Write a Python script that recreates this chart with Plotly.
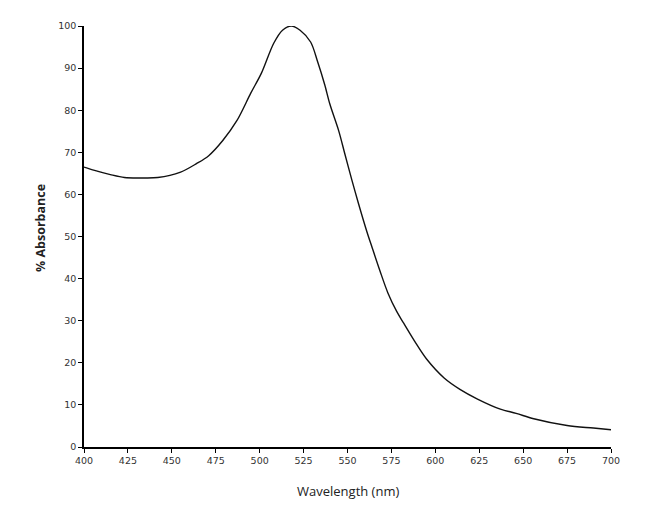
import plotly.graph_objects as go

wavelength_nm = [400, 406, 415, 423, 433, 442, 455, 464, 471, 479, 487, 495, 501,
                 508, 513, 518, 523, 529, 533, 537, 540, 545, 548.5, 552.5, 556, 561,
                 564, 568.5, 573, 578, 582, 589, 595, 605, 614, 624, 637, 646, 656,
                 675, 690, 700]
absorbance_pct = [66.5, 65.7, 64.7, 64.0, 63.9, 64.0, 65.3, 67.3, 69.2, 72.8, 77.5, 84.1, 88.8,
                  95.9, 99.0, 100.0, 99.0, 96.2, 91.5, 86.1, 81.4, 75.1, 69.6, 63.4, 58.2, 51.2,
                  47.4, 41.8, 36.6, 32.2, 29.4, 24.6, 20.9, 16.4, 13.7, 11.4, 9.0, 8.0, 6.7,
                  5.1, 4.5, 4.1]

x_ticks = list(range(400, 701, 25))
y_ticks = list(range(0, 101, 10))

fig = go.Figure()
fig.add_trace(go.Scatter(
    x=wavelength_nm, y=absorbance_pct, mode="lines",
    line=dict(color="#111111", width=1.4, shape="spline", smoothing=0.9),
    showlegend=False, hoverinfo="skip",
))

axis_common = dict(
    showline=True, linecolor="#000000", linewidth=1.5,
    ticks="outside", ticklen=4, tickwidth=1.2, tickcolor="#000000",
    showgrid=False, zeroline=False, mirror=False,
    tickfont=dict(family="DejaVu Sans", size=9.5, color="#333333"),
)

fig.update_layout(
    width=650, height=508,
    margin=dict(l=76, r=47, t=13, b=69),
    paper_bgcolor="white", plot_bgcolor="white",
    xaxis=dict(range=[400, 700], tickvals=x_ticks, **axis_common),
    yaxis=dict(range=[0, 100], tickvals=y_ticks, **axis_common),
    annotations=[
        dict(text="Wavelength (nm)", xref="paper", yref="paper", x=0.5, y=0,
             xanchor="center", yanchor="middle", yshift=-44, showarrow=False,
             font=dict(family="Open Sans", size=13, color="#222222")),
        dict(text="<b>% Absorbance</b>", xref="paper", yref="paper", x=0, y=0.52,
             xanchor="center", yanchor="middle", xshift=-44, textangle=-90, showarrow=False,
             font=dict(family="Open Sans", size=12.5, color="#222222")),
    ],
)

fig.write_html("out.html")
